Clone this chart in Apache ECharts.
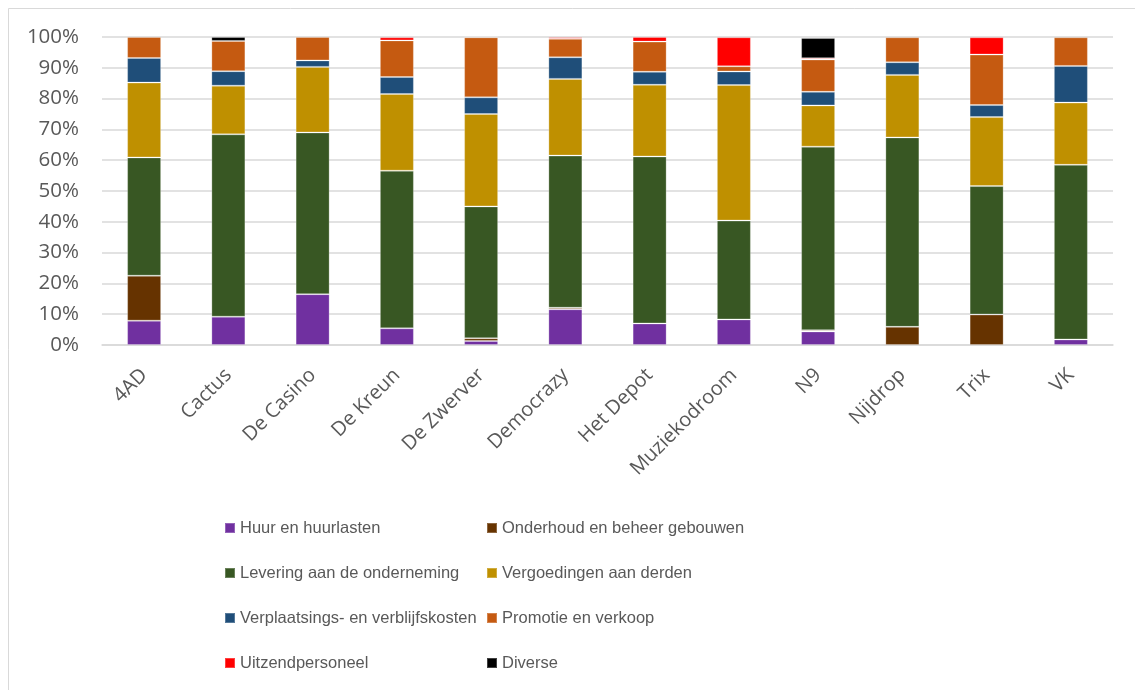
<!DOCTYPE html>
<html>
<head>
<meta charset="utf-8">
<script src="https://cdn.jsdelivr.net/npm/echarts@6/dist/echarts.min.js"></script>
<style>
html,body{margin:0;padding:0;background:#fff;}
#chart{width:1135px;height:690px;}
</style>
</head>
<body>
<div id="chart"></div>
<script>
const categories = ['4AD','Cactus','De Casino','De Kreun','De Zwerver','Democrazy','Het Depot','Muziekodroom','N9','Nijdrop','Trix','VK'];
const yTicks = [0,10,20,30,40,50,60,70,80,90,100];

const huur         = [7.9, 9.2, 16.5, 5.4, 1.3, 11.6, 7.0, 8.3, 4.4, null, null, 1.8];
const onderhoud    = [14.6, null, null, null, 0.9, 0.5, null, null, 0.4, 5.9, 9.9, null];
const levering     = [38.4, 59.2, 52.5, 51.2, 42.8, 49.4, 54.2, 32.1, 59.6, 61.5, 41.7, 56.7];
const vergoedingen = [24.3, 15.8, 21.3, 24.9, 30.0, 24.9, 23.3, 44.0, 13.4, 20.3, 22.4, 20.2];
const verplaatsing = [8.0, 4.7, 2.1, 5.5, 5.4, 7.0, 4.2, 4.4, 4.4, 4.1, 3.9, 11.9];
const promotie     = [6.8, 9.8, 7.6, 11.9, 19.5, 6.0, 9.8, 1.7, 10.5, 8.1, 16.4, 9.3];
const uitzend      = [null, null, null, 1.0, 0.1, 0.5, 1.5, 9.4, 0.4, null, 5.6, null];
const diverse      = [null, 1.3, null, null, null, null, null, null, 6.6, null, null, null];

const seriesNames = ['Huur en huurlasten','Onderhoud en beheer gebouwen','Levering aan de onderneming','Vergoedingen aan derden','Verplaatsings- en verblijfskosten','Promotie en verkoop','Uitzendpersoneel','Diverse'];
const seriesData = [huur, onderhoud, levering, vergoedingen, verplaatsing, promotie, uitzend, diverse];
const colors = ['#7030A0','#663300','#385723','#BF9000','#1F4E79','#C55A11','#FF0000','#000000'];

const chart = echarts.init(document.getElementById('chart'), null, {renderer:'canvas'});
const legendText = {fontFamily:'Liberation Sans, Arial, sans-serif', fontSize:16.5, color:'#595959', lineHeight:20};
const option = {
  animation:false,
  backgroundColor:'#ffffff',
  color: colors,
  graphic:[{type:'rect', shape:{x:8.5,y:8.5,width:1200,height:800}, style:{fill:'none', stroke:'#d9d9d9', lineWidth:1}, silent:true}],
  grid:{left:102, right:22, top:37, bottom:345, containLabel:false},
  legend:[
    {orient:'vertical', left:219, top:513, itemWidth:10, itemHeight:10, itemGap:25, icon:'rect',
     data:[seriesNames[0],seriesNames[2],seriesNames[4],seriesNames[6]], textStyle:legendText},
    {orient:'vertical', left:481, top:513, itemWidth:10, itemHeight:10, itemGap:25, icon:'rect',
     data:[seriesNames[1],seriesNames[3],seriesNames[5],seriesNames[7]], textStyle:legendText}
  ],
  xAxis:{type:'category', data:categories,
    axisLine:{lineStyle:{color:'#d9d9d9', width:1.5}}, axisTick:{show:false},
    axisLabel:{rotate:45, interval:0, margin:27, fontFamily:'Open Sans, sans-serif', fontSize:20, color:'#595959'}},
  yAxis:{type:'value', min:yTicks[0], max:yTicks[yTicks.length-1], interval:10,
    axisLine:{show:false}, axisTick:{show:false},
    splitLine:{lineStyle:{color:'#d9d9d9', width:1.5}},
    axisLabel:{formatter:'{value}%', margin:23, fontFamily:'Open Sans, sans-serif', fontSize:20.5, color:'#595959'}},
  series: seriesNames.map((n,i)=>({
    name:n, type:'bar', stack:'total', barWidth:34, data:seriesData[i],
    itemStyle:{color:colors[i], borderColor:'rgba(255,255,255,0.25)', borderWidth:1}
  }))
};
chart.setOption(option);
</script>
</body>
</html>
